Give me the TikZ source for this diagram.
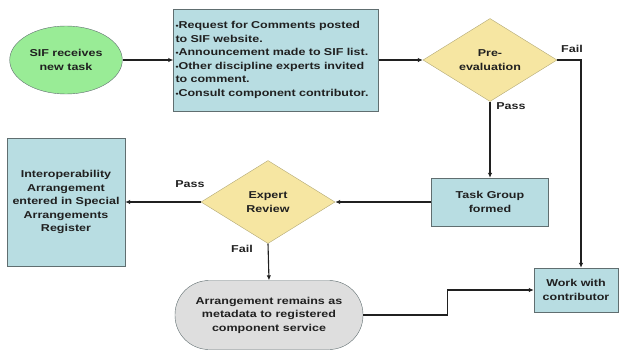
\documentclass[tikz,border=0pt]{standalone}
\usepackage{fontspec}
\newfontfamily\diagfont{Liberation Sans}[FakeStretch=1.25]
\usetikzlibrary{arrows.meta,shapes.geometric}
\definecolor{sifGreen}{RGB}{153,236,150}
\definecolor{sifBlue}{RGB}{184,221,226}
\definecolor{diaYellow}{RGB}{246,230,162}
\definecolor{stadGray}{RGB}{222,222,222}
\definecolor{boxEdge}{RGB}{96,110,112}
\definecolor{diaEdge}{RGB}{178,168,118}
\definecolor{inkGray}{RGB}{32,32,32}
\newcommand\bul{{\fontsize{7}{7}\selectfont•}}

\begin{document}
\begin{tikzpicture}[x=1pt,y=-1pt,
    every node/.style={font=\diagfont\bfseries\fontsize{10}{13.5}\selectfont,text=inkGray},
    stepbox/.style={draw=boxEdge,fill=sifBlue,align=center,inner sep=2pt},
    decision/.style={diamond,draw=diaEdge,fill=diaYellow,aspect=1.6,inner sep=0pt,
      minimum width=134pt,minimum height=83pt,align=center},
    arrow/.style={-{Latex[length=5pt,width=4.5pt]},line width=1.1pt,draw=inkGray}
  ]
    \useasboundingbox (0,0) rectangle (623,351);

    \node[ellipse,draw=boxEdge,fill=sifGreen,minimum width=105pt,minimum height=68pt,align=center] (sif) at (66,60) {SIF receives\\new task};
    \node[stepbox,align=left,text width=201pt,minimum height=102pt] (rfc) at (276,60)
      {\bul Request for Comments posted\\to SIF website.\\\bul Announcement made to SIF list.\\\bul Other discipline experts invited\\to comment.\\\bul Consult component contributor.};
    \node[decision] (pre) at (490,60) {Pre-\\evaluation};
    \node[stepbox,minimum width=117pt,minimum height=48pt] (task) at (490,202) {Task Group\\formed};
    \node[decision] (expert) at (268,202) {Expert\\Review};
    \node[stepbox,minimum width=118pt,minimum height=128pt] (interop) at (66,202)
      {Interoperability\\Arrangement\\entered in Special\\Arrangements\\Register};
    \node[draw=boxEdge,fill=stadGray,rounded corners=34pt,minimum width=188pt,minimum height=69pt,align=center] (arr) at (269,315)
      {Arrangement remains as\\metadata to registered\\component service};
    \node[stepbox,minimum width=84pt,minimum height=44pt] (work) at (576,290) {Work with\\contributor};

    \coordinate (failturn) at (581,60);

    % connectors
    \draw[arrow] (sif) -- (rfc);
    \draw[arrow] (rfc) -- (pre);
    \draw[arrow] (pre.east) -- (failturn) -- (failturn |- work.north);
    \draw[arrow] (pre.south) -- (task.north);
    \draw[arrow] (task) -- (expert);
    \draw[arrow] (expert.west) -- (interop.east);
    \draw[arrow] (expert.south) -- (arr.north);
    \draw[arrow] (arr.east) -- ++(84,0) |- (work.west);

    % labels
    \node (failA) at (572,49) {Fail};
    \node (passA) at (511,106) {Pass};
    \node (passB) at (190,184) {Pass};
    \node (failB) at (242,249) {Fail};
  \end{tikzpicture}
\end{document}
